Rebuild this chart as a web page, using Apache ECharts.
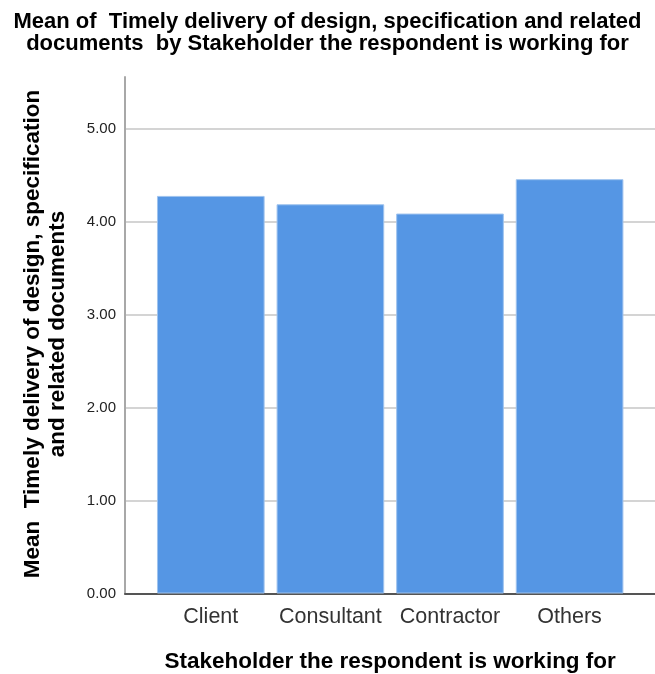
<!DOCTYPE html>
<html>
<head>
<meta charset="utf-8">
<script src="https://cdn.jsdelivr.net/npm/echarts@6/dist/echarts.min.js"></script>
<style>
  html, body { margin: 0; padding: 0; background: #fff; }
  #chart { width: 655px; height: 674px; }
</style>
</head>
<body>
<div id="chart"></div>
<script>
// data
var categories = ['Client', 'Consultant', 'Contractor', 'Others'];
var meanValues = [4.28, 4.19, 4.09, 4.46];
var yMin = 0;
var yMax = 5.56;
var yStep = 1;

var FONT = "'Liberation Sans', Arial, sans-serif";
var gridTop = 77;
var gridBottom = 80.5;

var chart = echarts.init(document.getElementById('chart'));

chart.setOption({
  backgroundColor: '#fff',
  animation: false,
  title: {
    text: 'Mean of  Timely delivery of design, specification and related\ndocuments  by Stakeholder the respondent is working for',
    left: 'center',
    top: 6,
    textStyle: {
      fontFamily: FONT,
      fontWeight: 'bold',
      fontSize: 22,
      lineHeight: 22,
      color: '#000'
    }
  },
  graphic: [{
    type: 'text',
    x: 45.5,
    y: 334,
    rotation: Math.PI / 2,
    style: {
      text: 'Mean  Timely delivery of design, specification\nand related documents',
      fontFamily: FONT,
      fontWeight: 'bold',
      fontSize: 22.5,
      lineHeight: 25,
      fill: '#000',
      align: 'center',
      verticalAlign: 'middle'
    }
  }],
  grid: [
    { left: 125, right: 0, top: gridTop, bottom: gridBottom, containLabel: false, outerBoundsMode: 'none' },
    { left: 151, right: 25.6, top: gridTop, bottom: gridBottom, containLabel: false, outerBoundsMode: 'none' }
  ],
  xAxis: [
    {
      // frame axis: only draws the bottom line over the whole width
      gridIndex: 0,
      type: 'value',
      min: 0,
      max: 1,
      axisLine: { show: true, onZero: false, lineStyle: { color: '#555', width: 2 } },
      axisTick: { show: false },
      axisLabel: { show: false },
      splitLine: { show: false }
    },
    {
      gridIndex: 1,
      type: 'category',
      data: categories,
      axisLine: { show: false },
      axisTick: { show: false },
      axisLabel: {
        interval: 0,
        hideOverlap: false,
        margin: 13,
        fontFamily: FONT,
        fontSize: 21.5,
        color: '#333'
      },
      name: 'Stakeholder the respondent is working for',
      nameLocation: 'middle',
      nameGap: 57,
      nameTextStyle: {
        fontFamily: FONT,
        fontWeight: 'bold',
        fontSize: 22.5,
        color: '#000'
      }
    }
  ],
  yAxis: [
    {
      gridIndex: 0,
      type: 'value',
      min: yMin,
      max: yMax,
      interval: yStep,
      axisLine: { show: true, lineStyle: { color: '#a8a8a8', width: 2 } },
      axisTick: { show: false },
      axisLabel: {
        margin: 9,
        showMaxLabel: false,
        fontFamily: FONT,
        fontSize: 15,
        color: '#222',
        formatter: function (v) { return v.toFixed(2); }
      },
      splitLine: {
        show: true,
        showMinLine: false,
        showMaxLine: false,
        lineStyle: { color: '#d4d4d4', width: 2 }
      }
    },
    {
      gridIndex: 1,
      type: 'value',
      min: yMin,
      max: yMax,
      show: false,
      splitLine: { show: false }
    }
  ],
  series: [{
    type: 'bar',
    xAxisIndex: 1,
    yAxisIndex: 1,
    data: meanValues,
    barWidth: '90%',
    itemStyle: {
      color: '#5596e4',
      borderColor: '#9fc3ee',
      borderWidth: 1
    }
  }]
});

window.addEventListener('resize', function () {
  chart.resize();
});
</script>
</body>
</html>
